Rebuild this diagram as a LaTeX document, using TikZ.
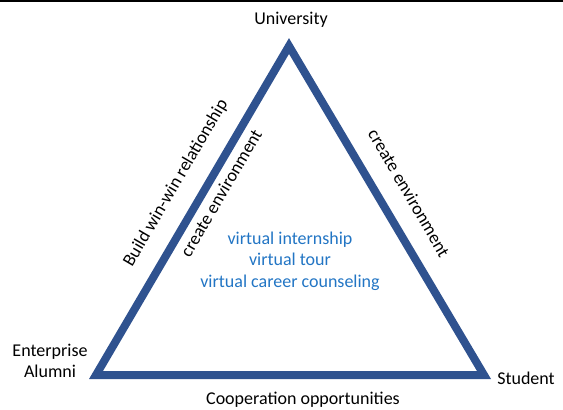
\documentclass[tikz,border=0pt]{standalone}
\usepackage{fontspec}
\setmainfont{Carlito}
\definecolor{edgeblue}{RGB}{47,82,143}
\definecolor{textblue}{RGB}{34,117,196}

\begin{document}
\begin{tikzpicture}[x=1pt, y=-1pt,
  every node/.style={font=\fontsize{18}{21.5}\selectfont},
  side/.style={draw=edgeblue, line width=8pt, line join=miter}]
\useasboundingbox (0,0) rectangle (563,410);
\draw[line width=2pt] (0,1) -- (563,1);
% corners of the triangle
\coordinate (top) at (289,46);
\coordinate (left) at (96,375);
\coordinate (right) at (484,375);
\draw[side] (left) -- (top) -- (right) -- cycle;
% parties at the corners
\node (univ) at (291,20) {University};
\node[align=center] (ent) at (50,361) {Enterprise\\Alumni};
\node (stud) at (526,378) {Student};
% what each side stands for
\node (coop) at (303,400) {Cooperation opportunities};
\node[rotate=59.7] (winwin) at (176,183) {Build win-win relationship};
\node[rotate=59.7] (envL) at (221,193) {create environment};
\node[rotate=-59.7] (envR) at (409,193) {create environment};
\node[align=center, text=textblue] (virt) at (290,261) {virtual internship\\virtual tour\\virtual career counseling};
\end{tikzpicture}
\end{document}
